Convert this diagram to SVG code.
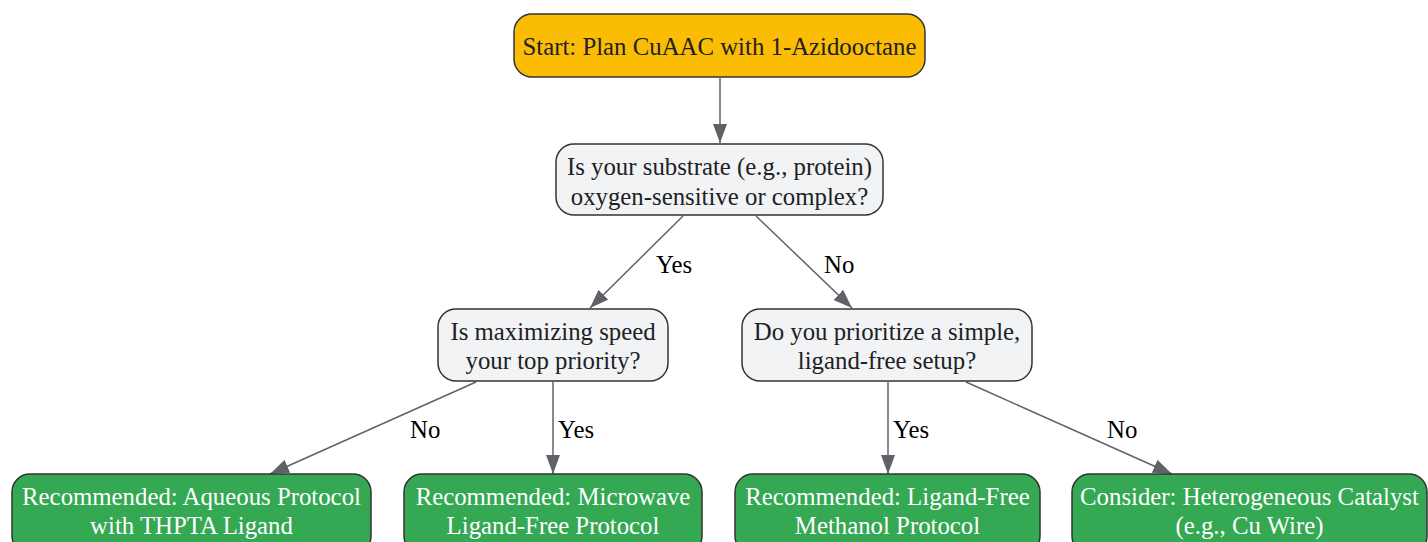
<svg xmlns="http://www.w3.org/2000/svg" width="1428" height="542" viewBox="0 0 1428 542">
<style>
.node rect{stroke:#333333;stroke-width:1.5}
.start rect{fill:#FBBC04}
.dec rect{fill:#F1F3F4}
.rec rect{fill:#34A853}
text{font-family:"Liberation Serif","Times New Roman",serif;font-size:24.8px;text-anchor:middle}
.dark text{fill:#202124}
.rec text{fill:#FFFFFF}
.edges path{stroke:#5F6368;stroke-width:1.5;fill:none;marker-end:url(#ah)}
.elabel{fill:#000000;text-anchor:start}
</style>
<defs>
<marker id="ah" markerUnits="userSpaceOnUse" markerWidth="19" markerHeight="14" refX="19" refY="7" orient="auto" viewBox="0 0 19 14">
<path d="M0,0 L19,7 L0,14 Z" fill="#5F6368"/>
</marker>
</defs>
<g class="edges">
<path d="M720,78 L720,143"/>
<path d="M683,216 L590,308"/>
<path d="M756,216 L852,308"/>
<path d="M476,382 L270,474"/>
<path d="M553,382 L553,474"/>
<path d="M888,382 L888,474"/>
<path d="M966,382 L1172,474"/>
<text class="elabel" x="656" y="273">Yes</text>
<text class="elabel" x="824" y="273">No</text>
<text class="elabel" x="410" y="438">No</text>
<text class="elabel" x="558" y="438">Yes</text>
<text class="elabel" x="893" y="438">Yes</text>
<text class="elabel" x="1107" y="438">No</text>
</g>
<g id="start" class="node start dark">
<rect x="514" y="14" width="411" height="63" rx="18"/>
<text x="719.5" y="55">Start: Plan CuAAC with 1-Azidooctane</text>
</g>
<g id="q1" class="node dec dark">
<rect x="556" y="144" width="327" height="71" rx="18"/>
<text x="719.5" y="175">Is your substrate (e.g., protein)</text>
<text x="719.5" y="205">oxygen-sensitive or complex?</text>
</g>
<g id="q2" class="node dec dark">
<rect x="438" y="309" width="230" height="72" rx="18"/>
<text x="553" y="340">Is maximizing speed</text>
<text x="553" y="369">your top priority?</text>
</g>
<g id="q3" class="node dec dark">
<rect x="742" y="309" width="290" height="72" rx="18"/>
<text x="887" y="340">Do you prioritize a simple,</text>
<text x="887" y="369">ligand-free setup?</text>
</g>
<g id="r1" class="node rec">
<rect x="12" y="474" width="359" height="80" rx="18"/>
<text x="191.5" y="505">Recommended: Aqueous Protocol</text>
<text x="191.5" y="534">with THPTA Ligand</text>
</g>
<g id="r2" class="node rec">
<rect x="404" y="474" width="298" height="80" rx="18"/>
<text x="553" y="505">Recommended: Microwave</text>
<text x="553" y="534">Ligand-Free Protocol</text>
</g>
<g id="r3" class="node rec">
<rect x="735" y="474" width="305" height="80" rx="18"/>
<text x="887.5" y="505">Recommended: Ligand-Free</text>
<text x="887.5" y="534">Methanol Protocol</text>
</g>
<g id="r4" class="node rec">
<rect x="1072" y="474" width="355" height="80" rx="18"/>
<text x="1249.5" y="505">Consider: Heterogeneous Catalyst</text>
<text x="1249.5" y="534">(e.g., Cu Wire)</text>
</g>
</svg>
